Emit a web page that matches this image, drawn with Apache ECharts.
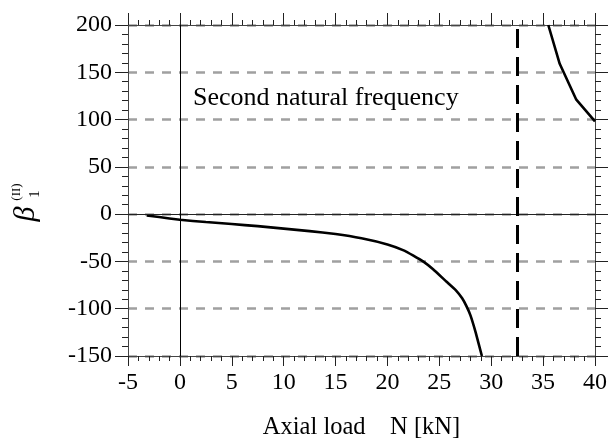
<!DOCTYPE html>
<html>
<head>
<meta charset="utf-8">
<script src="https://cdn.jsdelivr.net/npm/echarts@6/dist/echarts.min.js"></script>
<style>html,body{margin:0;padding:0;background:#fff;}#c{width:610px;height:442px;}</style>
</head>
<body>
<div id="c"></div>
<script>
// Lower branch of the curve [N (kN), beta]
const lowerBranch = [[-3.2,-1.5],[-2,-3],[0,-6],[2.5,-8.3],[5,-10.5],[7.5,-12.7],[10,-15.3],[12.5,-18],[15,-21],[17.5,-25.5],[20,-32],[21.5,-38],[22.5,-43.8],[23.5,-50.5],[24.4,-58.3],[25.7,-71.5],[26.6,-80.5],[27.2,-89],[27.6,-97],[28,-107],[28.5,-125],[29.1,-150]];
// Upper branch of the curve
const upperBranch = [[35.5,200],[36.6,159],[38.2,121],[40,98]];
// Asymptote position (dashed vertical line)
const asymptoteX = 32.5;
// Axis settings
const xTicks = {min: -5, max: 40, interval: 5};
const yTicks = {min: -150, max: 200, interval: 50};
const xName = 'Axial load    N [kN]';
const annotation = 'Second natural frequency';

const FONT = 'Liberation Serif';
const chart = echarts.init(document.getElementById('c'), null, {renderer: 'canvas'});

const axisCommon = {
  type: 'value',
  axisLine: {show: true, onZero: false, lineStyle: {color: '#444', width: 1}},
  axisTick: {show: true, inside: false, lineStyle: {color: '#222', width: 1}},
  minorTick: {show: true, splitNumber: 5, lineStyle: {color: '#222', width: 1}},
  splitLine: {show: false},
  axisLabel: {fontFamily: FONT, fontSize: 24, color: '#000'}
};

const option = {
  animation: false,
  backgroundColor: '#fff',
  grid: {left: 128, right: 15, top: 25, bottom: 86, outerBoundsMode: 'none', containLabel: false},
  xAxis: [
    Object.assign({}, axisCommon, {
      position: 'bottom', min: xTicks.min, max: xTicks.max, interval: xTicks.interval,
      axisTick: Object.assign({}, axisCommon.axisTick, {length: 10}),
      minorTick: Object.assign({}, axisCommon.minorTick, {length: 5}),
      axisLabel: Object.assign({}, axisCommon.axisLabel, {margin: 15}),
      name: xName, nameLocation: 'middle', nameGap: 59,
      nameTextStyle: {fontFamily: FONT, fontSize: 24.5, color: '#000'}
    }),
    Object.assign({}, axisCommon, {
      position: 'top', min: xTicks.min, max: xTicks.max, interval: xTicks.interval,
      axisTick: Object.assign({}, axisCommon.axisTick, {length: 12}),
      minorTick: Object.assign({}, axisCommon.minorTick, {length: 5}),
      axisLabel: {show: false}
    })
  ],
  yAxis: [
    Object.assign({}, axisCommon, {
      position: 'left', min: yTicks.min, max: yTicks.max, interval: yTicks.interval,
      axisTick: Object.assign({}, axisCommon.axisTick, {length: 13}),
      minorTick: Object.assign({}, axisCommon.minorTick, {length: 6}),
      axisLabel: Object.assign({}, axisCommon.axisLabel, {margin: 16}),
      splitLine: {show: true, showMinLine: true, showMaxLine: true, lineStyle: {color: '#a0a0a0', width: 2.6, type: [9, 8]}}
    }),
    Object.assign({}, axisCommon, {
      position: 'right', min: yTicks.min, max: yTicks.max, interval: yTicks.interval,
      axisTick: Object.assign({}, axisCommon.axisTick, {length: 13}),
      minorTick: Object.assign({}, axisCommon.minorTick, {length: 6}),
      axisLabel: {show: false}
    })
  ],
  series: [
    {
      type: 'line', data: lowerBranch, xAxisIndex: 0, yAxisIndex: 0,
      showSymbol: false, symbol: 'none', clip: true, smooth: 0.1,
      lineStyle: {color: '#000', width: 2.6},
      markLine: {
        silent: true, symbol: 'none', label: {show: false},
        data: [
          {yAxis: 0, lineStyle: {color: '#222', width: 1, type: 'solid'}},
          {xAxis: 0, lineStyle: {color: '#000', width: 1, type: 'solid'}},
          {xAxis: asymptoteX, lineStyle: {color: '#000', width: 3, type: [19, 9]}}
        ]
      }
    },
    {
      type: 'line', data: upperBranch, xAxisIndex: 0, yAxisIndex: 0,
      showSymbol: false, symbol: 'none', clip: true,
      lineStyle: {color: '#000', width: 2.6}
    }
  ],
  graphic: [
    {type: 'text', x: 193, y: 98, style: {text: annotation, font: '26px "Liberation Serif"', fill: '#000', verticalAlign: 'middle', align: 'left'}},
    {type: 'text', x: 26, y: 214, rotation: Math.PI / 2, style: {text: 'β', font: 'italic 30px "Liberation Serif"', fill: '#000', verticalAlign: 'middle', align: 'center'}},
    {type: 'text', x: 35, y: 194, rotation: Math.PI / 2, style: {text: '1', font: '15px "Liberation Serif"', fill: '#000', verticalAlign: 'middle', align: 'center'}},
    {type: 'text', x: 17, y: 192, rotation: Math.PI / 2, style: {text: '(II)', font: '13px "Liberation Serif"', fill: '#000', verticalAlign: 'middle', align: 'center'}}
  ]
};
chart.setOption(option);
</script>
</body>
</html>
